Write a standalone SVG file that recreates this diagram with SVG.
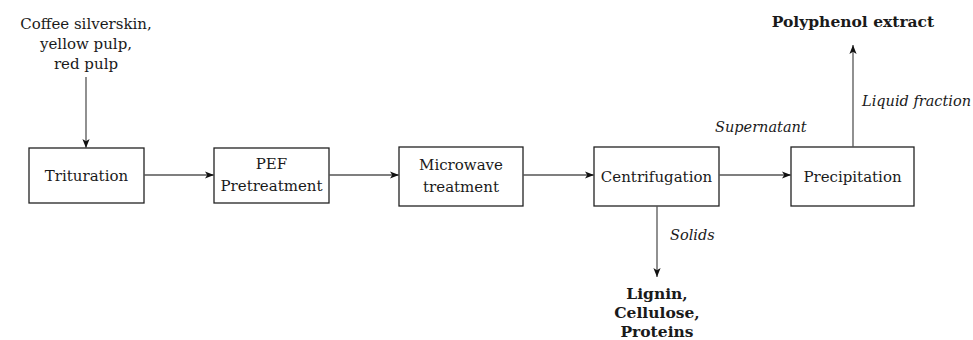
<svg xmlns="http://www.w3.org/2000/svg" width="973" height="340" viewBox="0 0 973 340">
<style>
text{font-family:"DejaVu Serif",serif;font-size:15px;fill:#1a1a1a}
.c{text-anchor:middle}
.b{font-weight:bold;font-size:15.5px}
.i{font-style:italic;font-size:14.5px}
.box{fill:#fff;stroke:#222;stroke-width:1.3}
.ln{stroke:#555;stroke-width:1.3;fill:none;marker-end:url(#ah)}
</style>
<defs>
<marker id="ah" viewBox="0 0 10 10" refX="10" refY="5" markerWidth="9" markerHeight="9" markerUnits="userSpaceOnUse" orient="auto">
<path d="M0,1 L10,5 L0,9 L2.5,5 Z" fill="#111"/>
</marker>
</defs>
<g id="input">
<text class="c" x="86" y="29">Coffee silverskin,</text>
<text class="c" x="86" y="49">yellow pulp,</text>
<text class="c" x="86" y="69">red pulp</text>
</g>
<g id="trituration">
<rect class="box" x="29" y="148" width="115" height="55"/>
<text class="c" x="86.5" y="181">Trituration</text>
</g>
<g id="pef">
<rect class="box" x="214" y="148" width="115" height="55"/>
<text class="c" x="271.5" y="169">PEF</text>
<text class="c" x="271.5" y="191">Pretreatment</text>
</g>
<g id="microwave">
<rect class="box" x="399" y="147" width="124" height="59"/>
<text class="c" x="461" y="170">Microwave</text>
<text class="c" x="461" y="192">treatment</text>
</g>
<g id="centrifugation">
<rect class="box" x="594" y="147" width="125" height="59"/>
<text class="c" x="656.5" y="182">Centrifugation</text>
</g>
<g id="precipitation">
<rect class="box" x="791" y="147" width="123" height="59"/>
<text class="c" x="852.5" y="182">Precipitation</text>
</g>
<g id="polyphenol">
<text class="c b" x="853" y="27">Polyphenol extract</text>
</g>
<g id="solids-out">
<text class="c b" x="657" y="299">Lignin,</text>
<text class="c b" x="657" y="318">Cellulose,</text>
<text class="c b" x="657" y="337">Proteins</text>
</g>
<g id="connectors">
<line class="ln" x1="86" y1="77" x2="86" y2="148"/>
<line class="ln" x1="144" y1="175" x2="214" y2="175"/>
<line class="ln" x1="329" y1="175" x2="399" y2="175"/>
<line class="ln" x1="523" y1="175" x2="594" y2="175"/>
<line class="ln" x1="719" y1="175" x2="791" y2="175"/>
<line class="ln" x1="853" y1="147" x2="853" y2="45"/>
<line class="ln" x1="657" y1="206" x2="657" y2="277"/>
<text class="i" x="715" y="132">Supernatant</text>
<text class="i" x="862" y="106">Liquid fraction</text>
<text class="i" x="670" y="240">Solids</text>
</g>
</svg>
